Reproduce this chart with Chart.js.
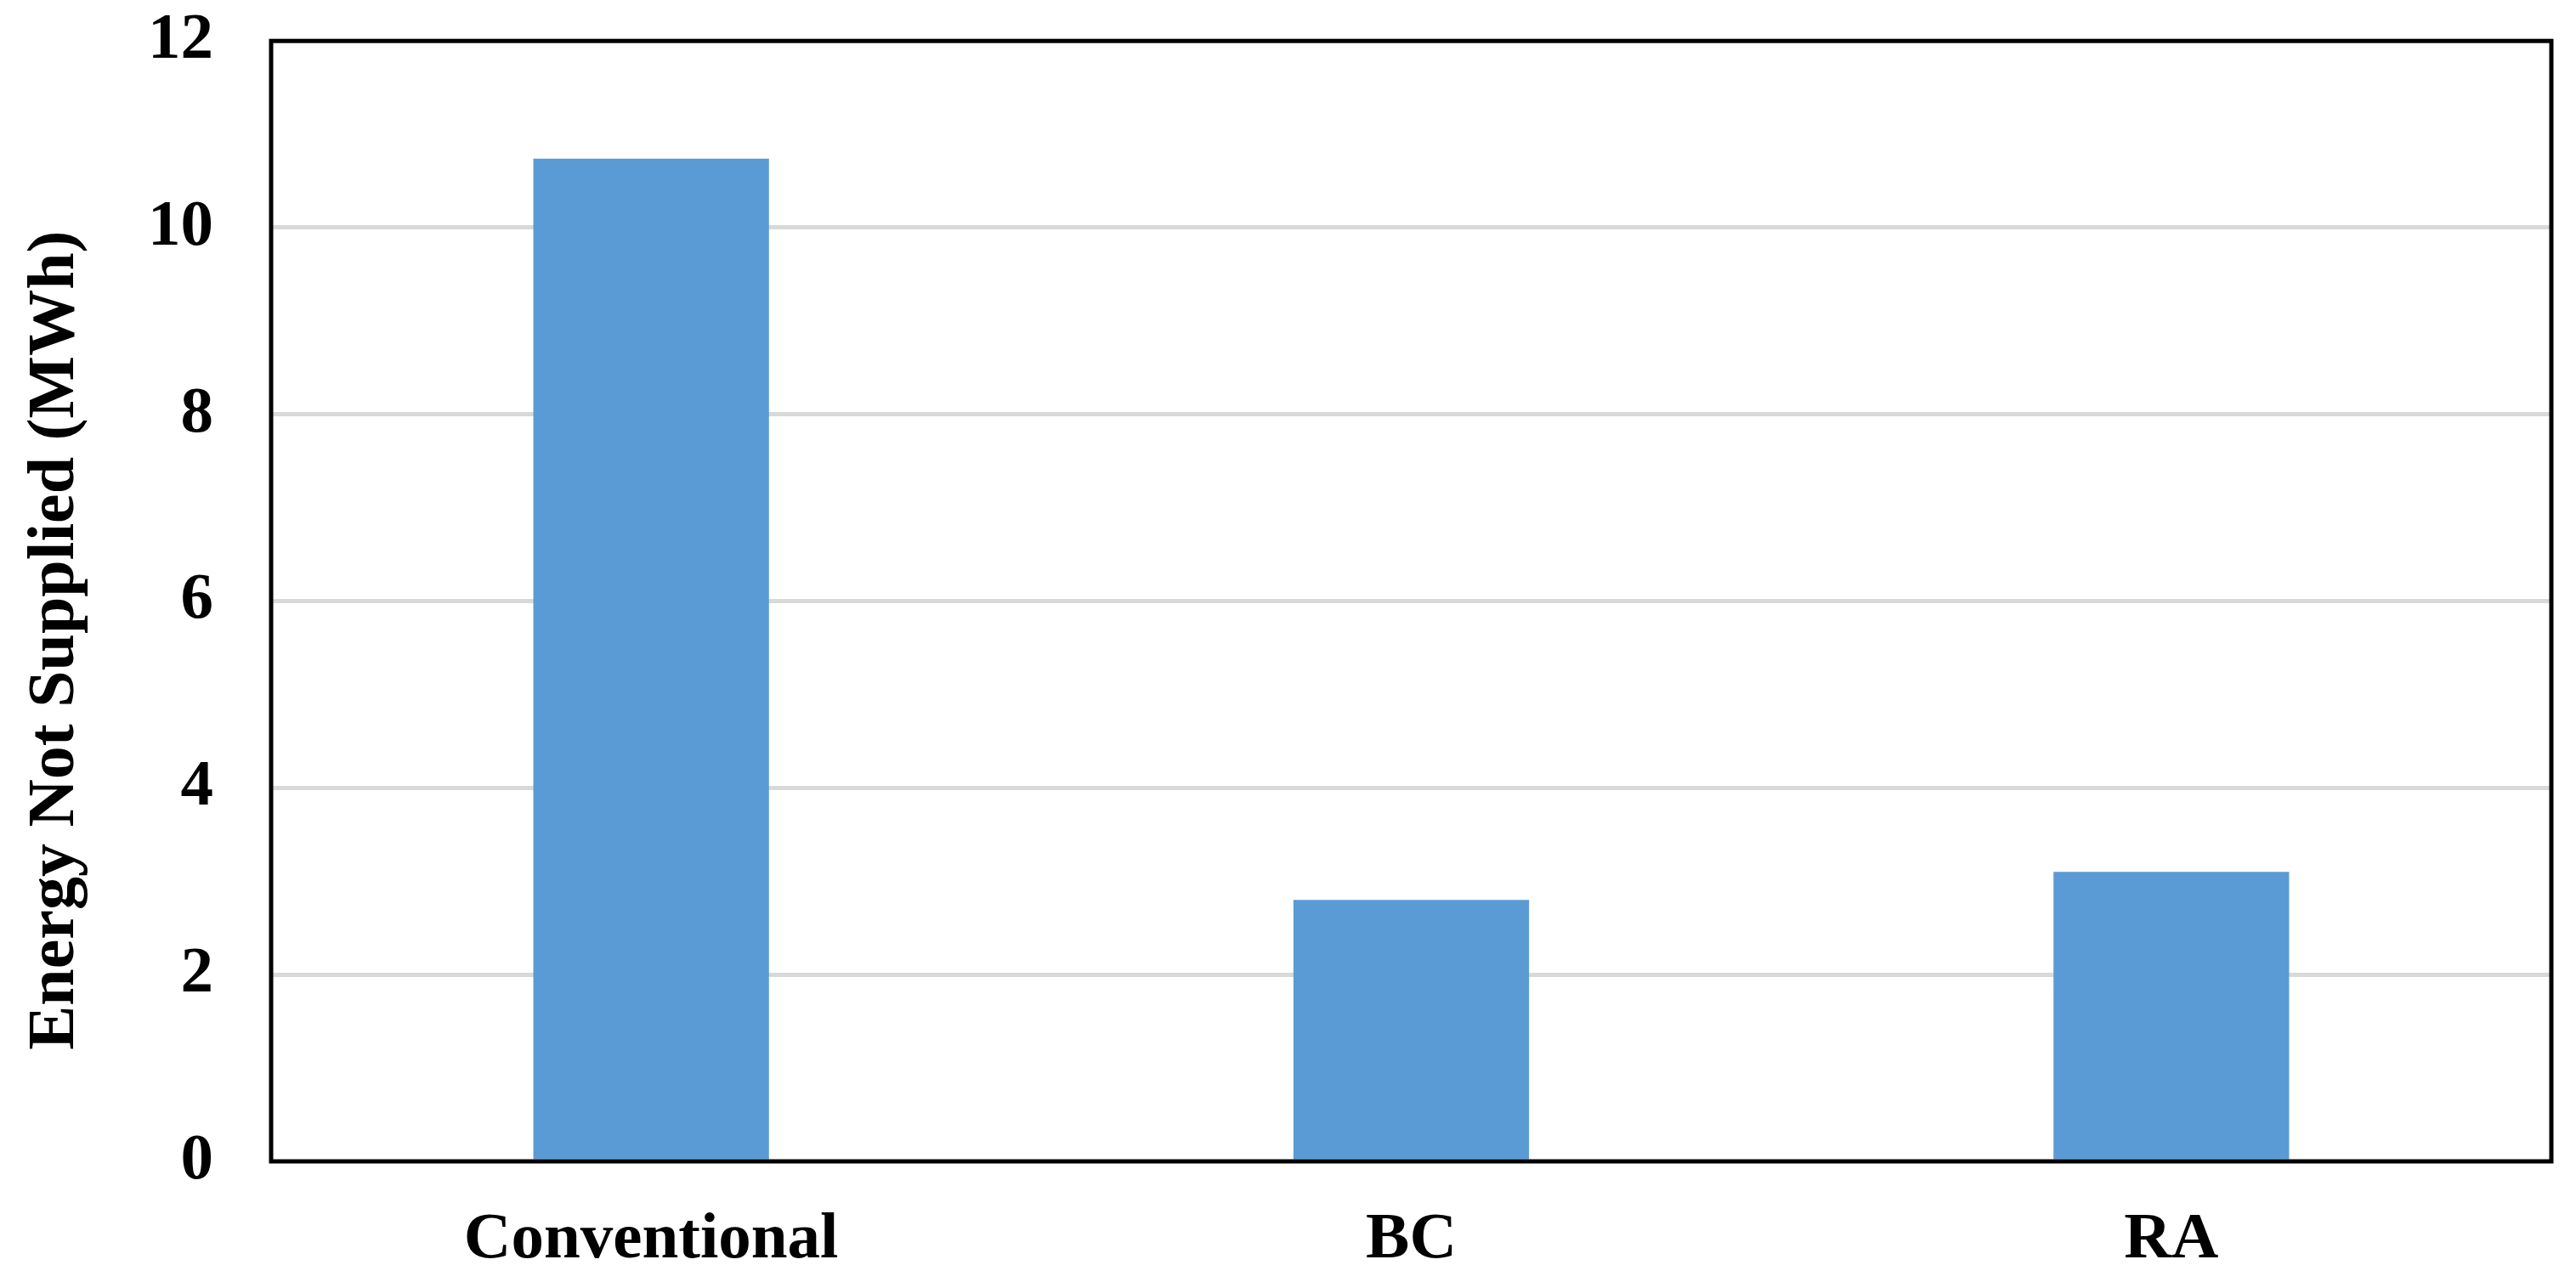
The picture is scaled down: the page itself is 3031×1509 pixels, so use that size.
<!DOCTYPE html>
<html>
<head>
<meta charset="utf-8">
<script src="https://cdn.jsdelivr.net/npm/chart.js@4.4.1/dist/chart.umd.min.js"></script>
<style>
  html, body { margin: 0; padding: 0; background: #ffffff; }
  #wrap { width: 3031px; height: 1509px; }
</style>
</head>
<body>
<div id="wrap"><canvas id="ens-chart" width="3031" height="1509"></canvas></div>
<script>
const categories = ['Conventional', 'BC', 'RA'];
const ensValues = [10.74, 2.80, 3.10];
const yTicks = [0, 2, 4, 6, 8, 10, 12];
const yTitle = 'Energy Not Supplied (MWh)';

const fontFamily = '"Liberation Serif", "Times New Roman", serif';

// marco negro alrededor del area del grafico + titulo del eje Y
const framePlugin = {
  id: 'frame',
  afterDraw(chart) {
    const a = chart.chartArea;
    const ctx = chart.ctx;
    ctx.save();
    ctx.strokeStyle = '#000000';
    ctx.lineWidth = 5;
    ctx.strokeRect(a.left, a.top, a.right - a.left, a.bottom - a.top);

    // el titulo va un poco mas abajo que el centro del area
    ctx.translate(86, (a.top + a.bottom) / 2 + 46);
    ctx.rotate(-Math.PI / 2);
    ctx.fillStyle = '#000000';
    ctx.font = 'bold 78px ' + fontFamily;
    ctx.textAlign = 'center';
    ctx.textBaseline = 'alphabetic';
    ctx.fillText(yTitle, 0, 0);
    ctx.restore();
  }
};

const ctx = document.getElementById('ens-chart').getContext('2d');

new Chart(ctx, {
  type: 'bar',
  data: {
    labels: categories,
    datasets: [{
      label: yTitle,
      data: ensValues,
      backgroundColor: '#5b9bd5',
      borderWidth: 0,
      barPercentage: 0.31,
      categoryPercentage: 1.0
    }]
  },
  options: {
    responsive: false,
    animation: false,
    layout: {
      padding: { top: 2, right: 29, left: 0, bottom: 0 }
    },
    scales: {
      x: {
        grid: { display: false },
        border: { display: false },
        ticks: {
          color: '#000000',
          padding: 39,
          font: { family: fontFamily, size: 77, weight: 'bold' }
        },
        afterFit(scale) { scale.height = 142; }
      },
      y: {
        min: 0,
        max: 12,
        afterBuildTicks(scale) {
          scale.ticks = yTicks.map(v => ({ value: v }));
        },
        grid: {
          color: ctx => (ctx.tick && (ctx.tick.value === 0 || ctx.tick.value === 12)) ? 'rgba(0,0,0,0)' : '#d9d9d9',
          lineWidth: 5,
          drawTicks: true,
          tickLength: 66,
          tickColor: 'rgba(0,0,0,0)'
        },
        border: { display: false },
        ticks: {
          color: '#000000',
          padding: 2,
          font: { family: fontFamily, size: 77, weight: 'bold' }
        },
        afterFit(scale) { scale.width = 319; }
      }
    },
    plugins: {
      legend: { display: false },
      tooltip: { enabled: false }
    }
  },
  plugins: [framePlugin]
});
</script>
</body>
</html>
